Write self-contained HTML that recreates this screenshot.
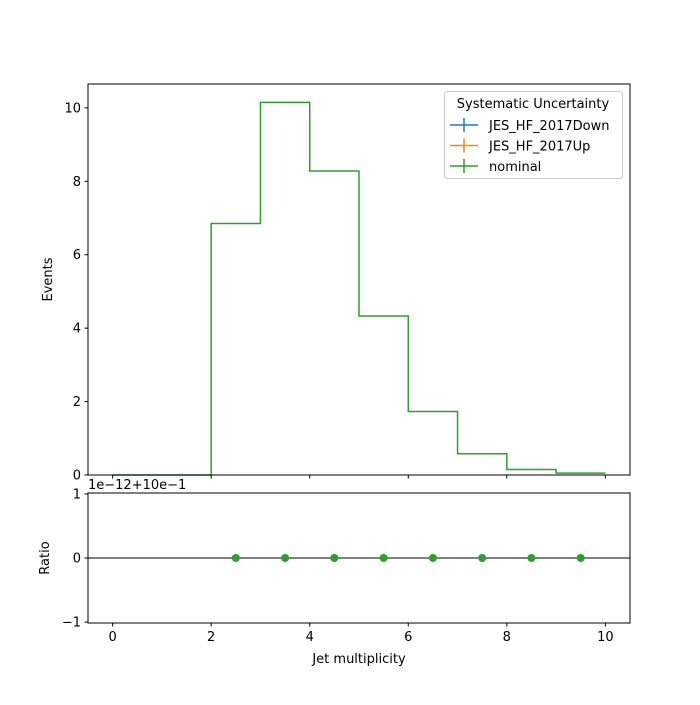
<!DOCTYPE html>
<html><head><meta charset="utf-8"><style>
body{margin:0;background:#fff}
svg{font-family:"DejaVu Sans","Liberation Sans",sans-serif;font-size:13px}
</style></head><body>
<svg id="chart" width="700" height="700" xmlns="http://www.w3.org/2000/svg">
<rect x="0" y="0" width="700" height="700" fill="#fff"/>
<g id="main"></g>
<g id="ratio"></g>
</svg>
<script>
const binEdges=[0,1,2,3,4,5,6,7,8,9,10];
const nominal=[0,0,6.85,10.15,8.28,4.33,1.73,0.58,0.15,0.05];
const ratioX=[2.5,3.5,4.5,5.5,6.5,7.5,8.5,9.5];
const ratioY=[0,0,0,0,0,0,0,0];
const xTicks=[0,2,4,6,8,10];
const yTicks=[0,2,4,6,8,10];
const rTicks=[-1,0,1];
const NS="http://www.w3.org/2000/svg";
const L=88,R=630,MT=84,MB=475,RT=493,RB=623;
const sx=v=>L+(v+0.5)/11*(R-L);
const sy=v=>MB-v/10.65*(MB-MT);
const ry=v=>(RT+RB)/2-v*(RB-RT)/2.03;
function mk(p,t,a,txt){const e=document.createElementNS(NS,t);for(const k in a)e.setAttribute(k,a[k]);if(txt!==undefined)e.textContent=txt;p.appendChild(e);return e;}
const M=document.getElementById('main'),Rg=document.getElementById('ratio');
let d=`M${sx(binEdges[0])},${sy(nominal[0])}`;
for(let i=0;i<nominal.length;i++){d+=` L${sx(binEdges[i])},${sy(nominal[i])} L${sx(binEdges[i+1])},${sy(nominal[i])}`;}
let s=mk(M,'path',{d:d,fill:'none',stroke:'#2ca02c','stroke-width':1.5});


let fr=mk(M,'rect',{x:L,y:MT,width:R-L,height:MB-MT,fill:'none',stroke:'#000','stroke-width':1});


xTicks.forEach(v=>{mk(M,'line',{x1:sx(v),x2:sx(v),y1:MB,y2:MB+3.5,stroke:'#000','stroke-width':1});
 mk(Rg,'line',{x1:sx(v),x2:sx(v),y1:RB,y2:RB+3.5,stroke:'#000','stroke-width':1});
 let t=mk(Rg,'text',{x:sx(v),y:RB+18,'text-anchor':'middle',fill:'#000'},String(v));
 
 });
yTicks.forEach(v=>{mk(M,'line',{x1:L-3.5,x2:L,y1:sy(v),y2:sy(v),stroke:'#000','stroke-width':1});
 let t=mk(M,'text',{x:L-7,y:sy(v)+4.5,'text-anchor':'end',fill:'#000'},String(v));
 
 });
let yt=mk(M,'text',{x:0,y:0,transform:`translate(52,${(MT+MB)/2}) rotate(-90)`,'text-anchor':'middle'},'Events');


const lg=mk(M,'g',{});


mk(lg,'rect',{x:444.5,y:91.5,width:178,height:87,rx:3,fill:'#fff','fill-opacity':0.8,stroke:'#ccc'});
mk(lg,'text',{x:533,y:108,'text-anchor':'middle'},'Systematic Uncertainty');
[['JES_HF_2017Down','#1f77b4'],['JES_HF_2017Up','#ff7f0e'],['nominal','#2ca02c']].forEach((e,i)=>{
 const y=125+i*20.5;const g=mk(lg,'g',{});
 
 
 mk(g,'line',{x1:450,x2:478,y1:y,y2:y,stroke:e[1],'stroke-width':1.5});
 mk(g,'line',{x1:464,x2:464,y1:y-7,y2:y+7,stroke:e[1],'stroke-width':1.5});
 mk(g,'text',{x:489,y:y+5},e[0]);});
mk(Rg,'line',{x1:L,x2:R,y1:ry(0),y2:ry(0),stroke:'#000','stroke-width':1});
ratioX.forEach((x,i)=>{let c=mk(Rg,'circle',{cx:sx(x),cy:ry(ratioY[i]),r:4,fill:'#2ca02c'});
 
 });
let rf=mk(Rg,'rect',{x:L,y:RT,width:R-L,height:RB-RT,fill:'none',stroke:'#000','stroke-width':1});


rTicks.forEach(v=>{mk(Rg,'line',{x1:L-3.5,x2:L,y1:ry(v),y2:ry(v),stroke:'#000','stroke-width':1});
 let t=mk(Rg,'text',{x:L-7,y:ry(v)+4.5,'text-anchor':'end'},v<0?'\u2212'+Math.abs(v):String(v));
 
 });
let off=mk(Rg,'text',{x:88,y:489},'1e\u221212+10e\u22121');


let rt=mk(Rg,'text',{x:0,y:0,transform:`translate(49,${(RT+RB)/2}) rotate(-90)`,'text-anchor':'middle'},'Ratio');


let xt=mk(Rg,'text',{x:(L+R)/2,y:663,'text-anchor':'middle'},'Jet multiplicity');


</script>
</body></html>
